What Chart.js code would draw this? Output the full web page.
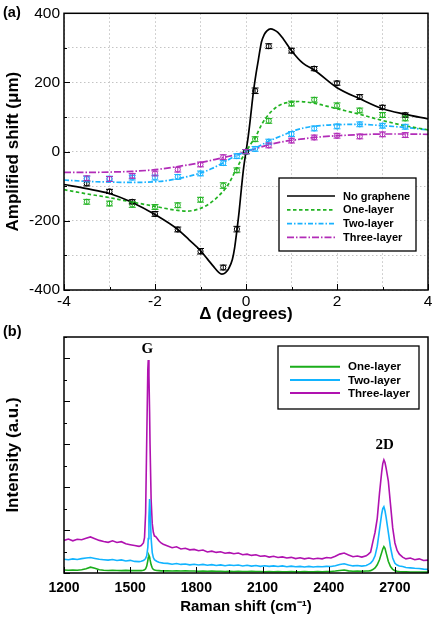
<!DOCTYPE html>
<html><head><meta charset="utf-8">
<script src="https://cdn.jsdelivr.net/npm/chart.js@4/dist/chart.umd.min.js"></script>
<style>
html,body{margin:0;padding:0;background:#fff;width:436px;height:621px;overflow:hidden;font-family:"Liberation Sans",Arial,sans-serif}
#ca{position:absolute;left:0;top:0}
#cb{position:absolute;left:0;top:325px}
.pl{position:absolute;left:3px;font-weight:bold;font-size:14.5px;line-height:16px;color:#000}
</style></head>
<body>
<canvas id="ca" width="436" height="325"></canvas>
<canvas id="cb" width="436" height="296"></canvas>
<div class="pl" style="top:4px">(a)</div>
<div class="pl" style="top:323px">(b)</div>
<script>
// ---------- Panel (a): amplified shift vs angle ----------
const noGrapheneFitX = [-4,-3.5,-3,-2.5,-2,-1.5,-1.25,-1,-0.85,-0.72,-0.6,-0.53,-0.45,-0.38,-0.3,-0.25,-0.2,-0.15,-0.1,-0.05,0,0.05,0.1,0.16,0.22,0.27,0.34,0.4,0.46,0.54,0.62,0.7,0.82,1,1.25,1.5,2,2.5,3,3.5,4];
const noGrapheneFitY = [-95,-107,-121,-147,-182,-225,-255,-286,-310,-331,-349,-354,-350,-338,-312,-278,-228,-172,-105,-45,0,45,100,170,225,264,317,338,349,355,352,345,326,292,256,236,185,153,124,108,95];
const oneLayerFitX = [-4,-3.5,-3,-2.5,-2,-1.7,-1.5,-1.3,-1,-0.8,-0.6,-0.4,-0.25,-0.12,0,0.1,0.2,0.35,0.5,0.65,0.82,1,1.15,1.35,1.6,2,2.5,3,3.5,4];
const oneLayerFitY = [-110,-122,-133,-146,-158,-166,-170,-172,-164,-150,-128,-97,-60,-27,0,21,40,80,108,127,139,143,145,143,137,124,108,90,75,63];
const twoLayerFitX = [-4,-3.5,-3,-2.5,-2,-1.75,-1.5,-1.25,-1,-0.75,-0.5,-0.28,0,0.24,0.53,0.82,1.11,1.41,1.7,2,2.5,3,3.5,4];
const twoLayerFitY = [-82,-86,-88,-89,-87,-84,-78,-71,-62,-49,-32,-16,0,13,32,48,63,72,76,78,79,75,70,63];
const threeLayerFitX = [-4,-3.5,-3,-2.5,-2,-1.5,-1,-0.5,-0.2,0,0.45,0.82,1.2,1.5,2,2.5,3,3.5,4];
const threeLayerFitY = [-60,-60,-59,-57,-52,-43,-32,-17,-8,0,18,29,36,41,46,49,51,51,50];

const measureX = [-3.5,-3,-2.5,-2,-1.5,-1,-0.5,-0.2,0,0.2,0.5,1,1.5,2,2.5,3,3.5];
const noGrapheneY = [-92,-115,-145,-180,-225,-288,-335,-224,0,176,305,292,240,198,158,128,106];
const noGrapheneErr = [7,6,6,7,7,8,7,8,6,8,7,7,6,6,7,6,6];
const oneLayerY = [-145,-150,-153,-160,-155,-139,-98,-54,0,36,89,139,150,133,119,106,96];
const oneLayerErr = [7,7,8,7,7,7,8,7,6,7,7,7,7,8,7,7,7];
const twoLayerY = [-79,-78,-75,-75,-73,-63,-33,-13,0,8,29,51,67,73,79,75,72];
const twoLayerErr = [8,7,7,7,7,7,7,7,6,7,7,7,7,7,7,7,7];
const threeLayerMeasureX = [-3.5,-3,-2.5,-2,-1.5,-1,-0.5,0,0.5,1,1.5,2,2.5,3,3.5];
const threeLayerY = [-77,-79,-70,-63,-52,-37,-16,0,18,32,41,46,44,50,48];
const threeLayerErr = [7,7,7,7,7,7,7,6,7,7,7,7,7,7,7];

const seriesA = ["No graphene","One-layer","Two-layer","Three-layer"];
const angleTicks = [-4,-2,0,2,4];
const shiftTicks = [-400,-200,0,200,400];

// ---------- Panel (b): Raman spectra ----------
const ramanShift = [1200,1220,1240,1260,1280,1300,1320,1340,1360,1380,1400,1420,1440,1460,1480,1500,1520,1540,
1550,1560,1565,1570,1575,1580,1582,1585,1588,1590,1595,1600,1605,1610,1615,1620,1630,1640,1650,
1670,1690,1710,1730,1750,1770,1790,1810,1830,1850,1870,1890,1910,1930,1950,1970,1990,2010,2030,2050,
2070,2090,2110,2130,2150,2170,2190,2210,2230,2250,2270,2290,2310,2330,2350,2370,2390,2410,2430,2450,
2470,2490,2510,2530,2550,2570,
2580,2590,2600,2610,2620,2630,2640,2645,2650,2655,2660,2670,2680,2690,2700,2710,2720,2735,
2750,2770,2790,2810,2830,2850];
const threeLayerRaman = [1.52,1.58,1.50,1.57,1.55,1.62,1.68,1.60,1.52,1.47,1.43,1.50,1.42,1.46,1.36,1.32,1.28,1.24,
1.28,1.40,1.65,2.8,6.2,9.5,9.93,9.2,7.5,6.0,3.4,2.3,1.9,1.72,1.70,1.64,1.50,1.40,1.34,
1.26,1.18,1.22,1.12,1.15,1.08,1.10,1.04,1.07,0.98,1.02,0.96,0.99,0.92,0.95,0.90,0.93,0.85,0.88,0.82,
0.85,0.78,0.80,0.74,0.78,0.72,0.75,0.70,0.73,0.67,0.71,0.66,0.70,0.65,0.69,0.66,0.72,0.70,0.78,0.88,
0.93,0.84,0.76,0.79,0.74,0.80,
0.88,0.98,1.45,1.9,2.55,3.7,4.7,5.1,5.27,5.15,4.9,4.3,3.2,2.1,1.4,1.05,0.88,0.74,
0.66,0.70,0.62,0.66,0.58,0.60];
const twoLayerRaman = [0.64,0.62,0.66,0.63,0.67,0.70,0.72,0.68,0.64,0.62,0.60,0.63,0.58,0.61,0.56,0.59,0.54,0.53,
0.55,0.58,0.62,0.68,0.80,1.2,1.6,2.6,3.45,3.1,1.6,0.95,0.72,0.62,0.58,0.55,0.50,0.48,0.46,
0.45,0.41,0.44,0.40,0.42,0.38,0.41,0.37,0.40,0.36,0.39,0.35,0.38,0.34,0.37,0.35,0.37,0.33,0.36,0.32,
0.35,0.31,0.34,0.31,0.33,0.30,0.33,0.29,0.32,0.29,0.31,0.28,0.31,0.28,0.30,0.29,0.31,0.30,0.34,0.40,
0.43,0.37,0.33,0.35,0.32,0.35,
0.40,0.46,0.58,0.80,1.25,2.0,2.75,3.0,3.09,2.9,2.6,1.9,1.2,0.7,0.45,0.37,0.33,0.30,
0.26,0.24,0.22,0.21,0.18,0.17];
const oneLayerRaman = [0.14,0.13,0.14,0.13,0.15,0.20,0.27,0.22,0.15,0.13,0.12,0.13,0.12,0.11,0.12,0.11,0.11,0.11,
0.11,0.13,0.15,0.20,0.32,0.58,0.72,0.82,0.75,0.62,0.38,0.24,0.17,0.14,0.13,0.12,0.11,0.10,0.10,
0.10,0.09,0.10,0.09,0.10,0.09,0.09,0.08,0.09,0.08,0.09,0.08,0.08,0.07,0.08,0.07,0.08,0.07,0.07,0.08,
0.07,0.07,0.06,0.07,0.06,0.07,0.06,0.06,0.07,0.06,0.06,0.07,0.06,0.06,0.07,0.06,0.07,0.07,0.09,0.12,
0.14,0.10,0.08,0.09,0.08,0.09,
0.09,0.11,0.16,0.24,0.38,0.62,0.95,1.12,1.23,1.15,0.95,0.55,0.30,0.17,0.11,0.08,0.07,0.06,
0.06,0.05,0.05,0.05,0.04,0.04];
const seriesB = ["One-layer","Two-layer","Three-layer"];
const ramanTicks = [1200,1500,1800,2100,2400,2700];
const peakLabels = ["G","2D"];
const peakLabelX = [1578,2654];
const peakLabelY = [10.44,5.97];

// ---------- helpers ----------
const pts = (xs, ys) => xs.map((x, i) => ({x: x, y: ys[i]}));
const FONT = '"Liberation Sans", Arial, sans-serif';
const C_BLACK = '#000000', C_GREEN = '#22b322', C_BLUE = '#19b2ff', C_MAG = '#b22cb8';
const CB_GREEN = '#1aad1a', CB_BLUE = '#12b4ff', CB_MAG = '#b012b0';

function isMajor(v, base, step) {
  const r = (v - base) / step;
  return Math.abs(r - Math.round(r)) < 1e-6;
}

const frameTicks = {
  id: 'frameTicks',
  afterDatasetsDraw(chart, args, o) {
    const {ctx, chartArea: a} = chart;
    const xs = chart.scales.x, ys = chart.scales.y;
    ctx.save();
    ctx.strokeStyle = '#000';
    ctx.lineWidth = 1;
    xs.ticks.forEach(t => {
      const p = Math.round(xs.getPixelForValue(t.value)) + 0.5;
      const len = isMajor(t.value, o.xBase, o.xStep) ? o.majorLen : o.minorLen;
      ctx.beginPath(); ctx.moveTo(p, a.bottom); ctx.lineTo(p, a.bottom - len); ctx.stroke();
    });
    ys.ticks.forEach(t => {
      const p = Math.round(ys.getPixelForValue(t.value)) + 0.5;
      const len = isMajor(t.value, o.yBase, o.yStep) ? o.majorLen : o.minorLen;
      ctx.beginPath(); ctx.moveTo(a.left, p); ctx.lineTo(a.left + len, p); ctx.stroke();
    });
    ctx.lineWidth = o.frameWidth;
    ctx.strokeRect(a.left, a.top, a.right - a.left, a.bottom - a.top);
    ctx.restore();
  }
};

const errorBars = {
  id: 'errorBars',
  afterDatasetsDraw(chart) {
    const ctx = chart.ctx, ys = chart.scales.y;
    chart.data.datasets.forEach((d, di) => {
      if (!d.errors) return;
      const meta = chart.getDatasetMeta(di);
      ctx.save();
      ctx.strokeStyle = d.borderColor; ctx.lineWidth = 1;
      meta.data.forEach((pt, j) => {
        const v = d.data[j].y, e = d.errors[j];
        const y1 = ys.getPixelForValue(v + e), y2 = ys.getPixelForValue(v - e);
        ctx.beginPath();
        ctx.moveTo(pt.x, y1); ctx.lineTo(pt.x, y2);
        ctx.moveTo(pt.x - 3.5, y1); ctx.lineTo(pt.x + 3.5, y1);
        ctx.moveTo(pt.x - 3.5, y2); ctx.lineTo(pt.x + 3.5, y2);
        ctx.stroke();
      });
      ctx.restore();
    });
  }
};

const boxLegend = {
  id: 'boxLegend',
  afterDraw(chart, args, o) {
    const ctx = chart.ctx;
    ctx.save();
    ctx.fillStyle = '#fff';
    ctx.fillRect(o.x, o.y, o.w, o.h);
    ctx.strokeStyle = '#000'; ctx.lineWidth = 1.3;
    ctx.strokeRect(o.x, o.y, o.w, o.h);
    const items = chart.data.datasets.filter(d => d.inLegend);
    items.forEach((d, i) => {
      const y = o.firstY + i * o.gap;
      ctx.strokeStyle = d.borderColor; ctx.lineWidth = o.lineWidth;
      ctx.setLineDash(d.borderDash || []);
      ctx.beginPath(); ctx.moveTo(o.lineX0, y); ctx.lineTo(o.lineX1, y); ctx.stroke();
      ctx.setLineDash([]);
      ctx.fillStyle = '#000'; ctx.font = o.font; ctx.textBaseline = 'middle'; ctx.textAlign = 'left';
      ctx.fillText(d.label, o.textX, y + 0.5);
    });
    ctx.restore();
  }
};

const peakText = {
  id: 'peakText',
  afterDatasetsDraw(chart, args, o) {
    if (!o.labels) return;
    const ctx = chart.ctx, xs = chart.scales.x, ys = chart.scales.y;
    ctx.save();
    ctx.fillStyle = '#000'; ctx.font = o.font; ctx.textAlign = 'center'; ctx.textBaseline = 'middle';
    o.labels.forEach((t, i) => ctx.fillText(t, xs.getPixelForValue(o.xs[i]), ys.getPixelForValue(o.ys[i])));
    ctx.restore();
  }
};

Chart.register(frameTicks, errorBars, boxLegend, peakText);

// ---------- Chart (a) ----------
const curve = (label, xs, ys, color, dash) => ({
  label: label, data: pts(xs, ys), borderColor: color, backgroundColor: color,
  borderWidth: 1.7, borderDash: dash, pointRadius: 0, showLine: true,
  cubicInterpolationMode: 'monotone', inLegend: true, order: 2
});
const marks = (label, xs, ys, errs, color) => ({
  label: label + ' data', data: pts(xs, ys), errors: errs, borderColor: color,
  backgroundColor: 'rgba(255,255,255,0)', showLine: false, pointRadius: 2.6,
  pointBorderWidth: 1, pointStyle: 'circle', order: 1
});

new Chart(document.getElementById('ca'), {
  type: 'line',
  data: { datasets: [
    curve(seriesA[0], noGrapheneFitX, noGrapheneFitY, C_BLACK, []),
    curve(seriesA[1], oneLayerFitX, oneLayerFitY, C_GREEN, [3.5, 2.5]),
    curve(seriesA[2], twoLayerFitX, twoLayerFitY, C_BLUE, [5, 2, 1.5, 2]),
    curve(seriesA[3], threeLayerFitX, threeLayerFitY, C_MAG, [7, 2, 1.5, 2]),
    marks(seriesA[0], measureX, noGrapheneY, noGrapheneErr, C_BLACK),
    marks(seriesA[1], measureX, oneLayerY, oneLayerErr, C_GREEN),
    marks(seriesA[2], measureX, twoLayerY, twoLayerErr, C_BLUE),
    marks(seriesA[3], threeLayerMeasureX, threeLayerY, threeLayerErr, C_MAG)
  ]},
  options: {
    responsive: false, animation: false, events: [],
    layout: { padding: { top: 9, right: 8, left: 0, bottom: 0 } },
    plugins: {
      legend: { display: false }, tooltip: { enabled: false },
      frameTicks: { xBase: 0, xStep: 2, yBase: 0, yStep: 200, majorLen: 6, minorLen: 3, frameWidth: 1.5 },
      boxLegend: { x: 279, y: 178, w: 137, h: 73, firstY: 196, gap: 13.8, lineX0: 287, lineX1: 335,
                   textX: 343, lineWidth: 1.7, font: 'bold 11px ' + FONT },
      peakText: {}
    },
    scales: {
      x: {
        type: 'linear', min: -4, max: 4,
        afterFit: s => { s.height = 35; },
        grid: { color: '#c4c4c4', lineWidth: 1, drawTicks: false },
        border: { display: false, dash: [1.5, 2.5] },
        ticks: { stepSize: 1, autoSkip: false, maxRotation: 0, padding: 2, color: '#000',
                 font: { family: FONT, size: 15.5 },
                 callback: v => angleTicks.includes(v) ? String(v) : '' },
        title: { display: true, text: 'Δ (degrees)', color: '#000', padding: { top: 0, bottom: 0 },
                 font: { family: FONT, size: 17, weight: 'bold' } }
      },
      y: {
        type: 'linear', min: -400, max: 400,
        afterFit: s => { s.width = 64; },
        grid: { color: '#c4c4c4', lineWidth: 1, drawTicks: false },
        border: { display: false, dash: [1.5, 2.5] },
        ticks: { stepSize: 100, autoSkip: false, padding: 4, color: '#000',
                 font: { family: FONT, size: 15.5 },
                 callback: v => shiftTicks.includes(v) ? String(v) : '' },
        title: { display: true, text: 'Amplified shift (μm)', color: '#000', padding: { top: 3, bottom: 0 },
                 font: { family: FONT, size: 17, weight: 'bold' } }
      }
    }
  }
});

// ---------- Chart (b) ----------
const spec = (label, ys, color) => ({
  label: label, data: pts(ramanShift, ys), borderColor: color, backgroundColor: color,
  borderWidth: 1.6, pointRadius: 0, tension: 0, inLegend: true
});

new Chart(document.getElementById('cb'), {
  type: 'line',
  data: { datasets: [
    spec(seriesB[0], oneLayerRaman, CB_GREEN),
    spec(seriesB[1], twoLayerRaman, CB_BLUE),
    spec(seriesB[2], threeLayerRaman, CB_MAG)
  ]},
  options: {
    responsive: false, animation: false, events: [],
    layout: { padding: { top: 12, right: 8, left: 0, bottom: 0 } },
    plugins: {
      legend: { display: false }, tooltip: { enabled: false },
      frameTicks: { xBase: 1200, xStep: 300, yBase: 0, yStep: 2, majorLen: 6, minorLen: 3, frameWidth: 1.5 },
      boxLegend: { x: 278, y: 21, w: 141, h: 63, firstY: 41.7, gap: 13.2, lineX0: 290, lineX1: 340,
                   textX: 348, lineWidth: 2, font: 'bold 11.5px ' + FONT },
      peakText: { labels: peakLabels, xs: peakLabelX, ys: peakLabelY,
                  font: 'bold 15px "Liberation Serif", "Times New Roman", serif' }
    },
    scales: {
      x: {
        type: 'linear', min: 1200, max: 2850,
        afterFit: s => { s.height = 48; },
        grid: { display: false, drawTicks: false },
        border: { display: false },
        ticks: { stepSize: 150, autoSkip: false, maxRotation: 0, padding: 7, color: '#000',
                 font: { family: FONT, size: 14, weight: 'bold' },
                 callback: v => ramanTicks.includes(v) ? String(v) : '' },
        title: { display: true, text: 'Raman shift (cm\u207B\u00B9)', color: '#000', padding: { top: 0, bottom: 5 },
                 font: { family: FONT, size: 15, weight: 'bold' } }
      },
      y: {
        type: 'linear', min: 0, max: 11,
        afterFit: s => { s.width = 64; },
        grid: { display: false, drawTicks: false },
        border: { display: false },
        ticks: { stepSize: 1, autoSkip: false, display: false },
        title: { display: true, text: 'Intensity (a.u.)', color: '#000', padding: { top: 3, bottom: 0 },
                 font: { family: FONT, size: 17, weight: 'bold' } }
      }
    }
  }
});
</script>
</body></html>
